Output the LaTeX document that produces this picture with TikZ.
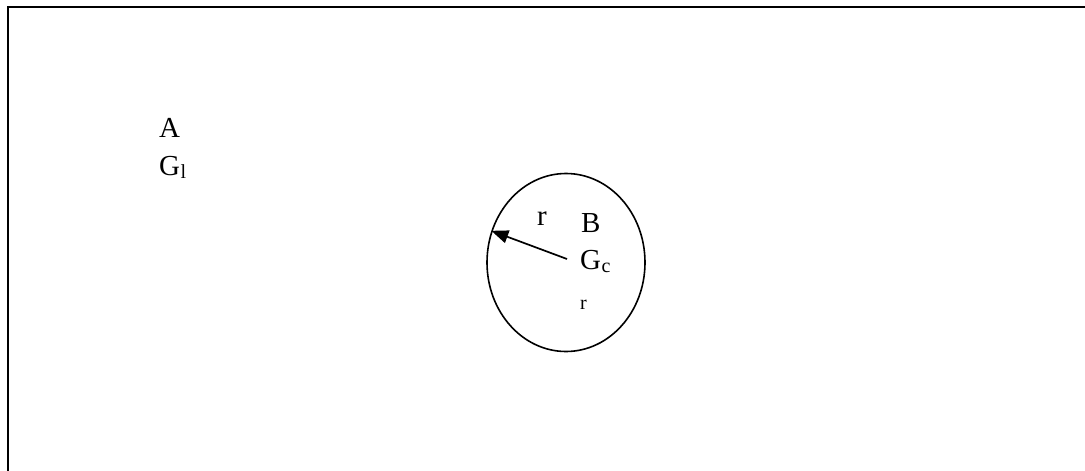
\documentclass[tikz,border=0pt]{standalone}
\usepackage{fontspec}
\setmainfont{Liberation Serif}
\usetikzlibrary{arrows.meta,shapes.geometric}
\begin{document}
\begin{tikzpicture}[x=1pt,y=-1pt,
  big/.style={inner sep=0pt,anchor=base west,font=\fontsize{29}{34}\selectfont},
  small/.style={inner sep=0pt,anchor=base west,font=\fontsize{20}{24}\selectfont},
  frame/.style={line width=2pt,line cap=rect},
  oval/.style={draw,ellipse,line width=1.6pt,minimum width=158pt,minimum height=178pt,inner sep=0pt},
  radius arrow/.style={line width=1.7pt,-{Triangle[length=17pt,width=13pt]}}]
\useasboundingbox (0,0) rectangle (1085,471);
\coordinate (fbl) at (8,472);
\coordinate (ftl) at (8,7);
\coordinate (ftr) at (1086,7);
\draw[frame] (fbl) -- (ftl) -- (ftr);
% region A
\node[big] (A) at (159,137) {A};
\node[big] (Gl) at (159,175) {G};
\node[small] (l) at (Gl.base east) [yshift=-3pt] {l};
% circle B
\node[oval] (ell) at (566,262.5) {};
\node[big] (r) at (537,225) {r};
\node[big] (B) at (581,232) {B};
\node[big] (Gc) at (580,269) {G};
\node[small] (c) at (Gc.base east) [yshift=-3pt] {c};
\node[small] (rs) at (580,309) {r};
\coordinate (ctr) at (567,259);
\draw[radius arrow] (ctr) -- (ell.157.5);
\end{tikzpicture}
\end{document}
